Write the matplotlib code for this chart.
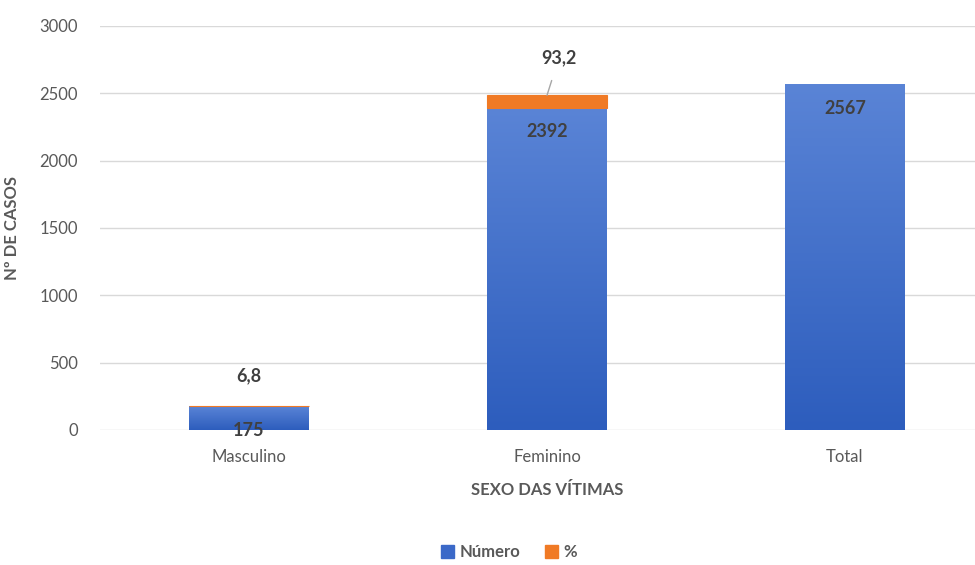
import matplotlib.pyplot as plt
import numpy as np
from matplotlib.colors import LinearSegmentedColormap

plt.rcParams['font.family'] = ['Lato', 'DejaVu Sans']

# dados
categorias = ["Masculino", "Feminino", "Total"]
numero = [175, 2392, 2567]
percentual = [6.8, 93.2, 0]
rotulos_pct = ["6,8", "93,2", ""]

cinza = '#595959'
escuro = '#404040'

fig = plt.figure(figsize=(9.75, 5.65), dpi=100)
ax = fig.add_axes([100/975, 135/565, 894/975, 404/565])

x = np.arange(len(categorias))
larg = 0.4

# barras azuis com degradê
barras = ax.bar(x, numero, larg, color='none', edgecolor='none', zorder=3)
cmap = LinearSegmentedColormap.from_list('azul', ['#2d5dbd', '#5a84d6'])
grad = np.linspace(0, 1, 256).reshape(-1, 1)
for b in barras:
    x0, y0 = b.get_x(), b.get_y()
    w, h = b.get_width(), b.get_height()
    im = ax.imshow(grad, cmap=cmap, aspect='auto', origin='lower',
                   extent=[x0, x0 + w, y0, y0 + h], zorder=3)
    im.set_clip_path(b)

# barras laranja (%) - sem borda quando o valor é zero
bordas = ['#f07a25' if p > 0 else 'none' for p in percentual]
laranja = ax.bar(x, percentual, larg, bottom=numero, color='#f07a25',
                 edgecolor=bordas, linewidth=0.8, zorder=3)

ax.set_xlim(-0.5, 2.5)
ax.set_ylim(0, 3000)
ax.set_yticks(range(0, 3001, 500))
ax.set_xticks(x)
ax.set_xticklabels(categorias)
ax.grid(axis='y', color='#d9d9d9', linewidth=1, zorder=0)
for s in ax.spines.values():
    s.set_visible(False)
ax.tick_params(length=0, labelsize=12, colors=cinza)
ax.tick_params(axis='y', pad=16)
ax.tick_params(axis='x', pad=14)

ax.set_ylabel("Nº DE CASOS", fontsize=12, fontweight='bold', color=cinza)
ax.yaxis.set_label_coords(-80/894, 0.5)
ax.set_xlabel("SEXO DAS VÍTIMAS", fontsize=12, fontweight='bold', color=cinza, labelpad=12)

# rótulos do número (dentro, no topo)
for i, v in enumerate(numero):
    ax.annotate(str(v), (x[i], v), xytext=(0, -24), textcoords='offset pixels',
                ha='center', va='center', fontsize=13, fontweight='bold',
                color=escuro, zorder=5)

# rótulos do percentual
ax.annotate(rotulos_pct[0], (x[0], numero[0] + percentual[0]), xytext=(0, 30),
            textcoords='offset pixels', ha='center', va='center',
            fontsize=13, fontweight='bold', color=escuro)
ax.annotate(rotulos_pct[1], (x[1], numero[1] + percentual[1]), xytext=(12, 38),
            textcoords='offset pixels', ha='center', va='center',
            fontsize=13, fontweight='bold', color=escuro,
            arrowprops=dict(arrowstyle='-', color='#a6a6a6', lw=1,
                            shrinkA=9, shrinkB=0))

h1 = plt.Rectangle((0, 0), 1, 1, color='#3b69c8')
h2 = plt.Rectangle((0, 0), 1, 1, color='#f07a25')
leg = fig.legend([h1, h2], ["Número", "%"], loc='center', bbox_to_anchor=(509/975, 13/565),
                 ncol=2, frameon=False, fontsize=12, handlelength=0.8, handleheight=0.8,
                 handletextpad=0.3, columnspacing=1.5, labelcolor=cinza)
for t in leg.get_texts():
    t.set_fontweight('bold')

fig.savefig('out.png', dpi=100)
